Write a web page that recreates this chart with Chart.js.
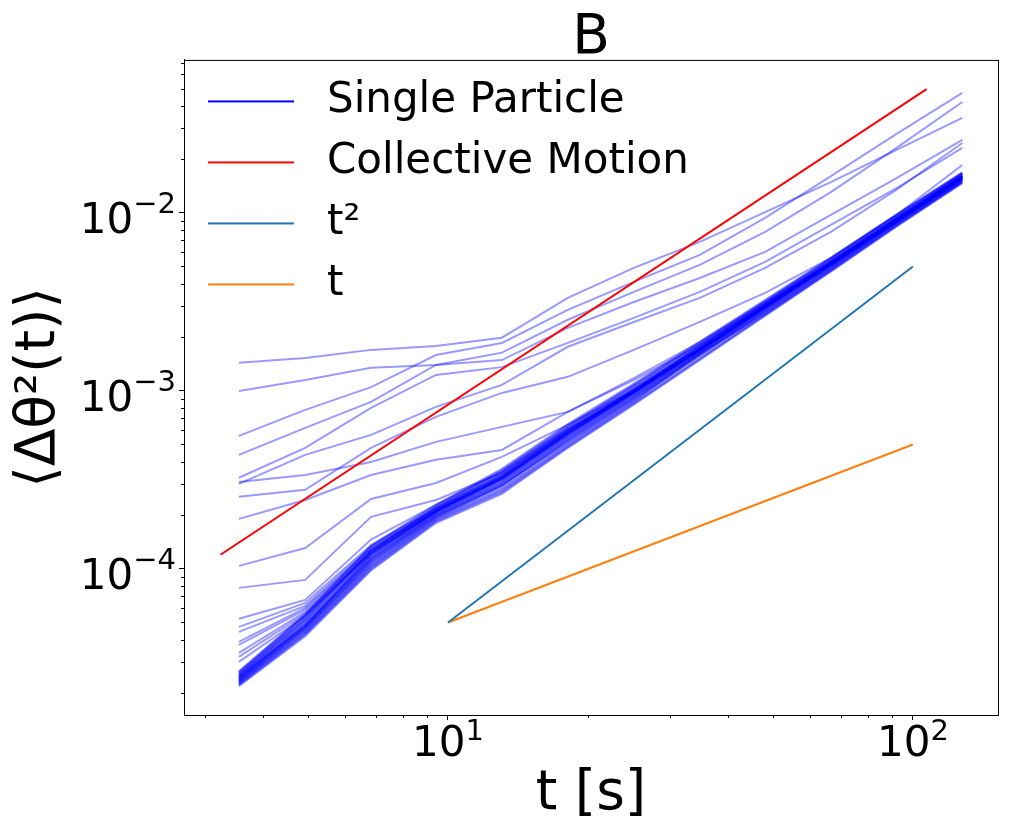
<!DOCTYPE html>
<html>
<head>
<meta charset="utf-8">
<script src="https://cdn.jsdelivr.net/npm/chart.js@4.4.0/dist/chart.umd.min.js"></script>
<style>
  html, body { margin: 0; padding: 0; background: #fff; }
  canvas { display: block; }
</style>
</head>
<body>
<canvas id="msd" width="1011" height="835"></canvas>
<script>
// time lags [s]
var tSec = [3.55, 4.93, 6.83, 9.42, 13.06, 18.1, 25.1, 34.8, 48.1, 66.6, 92.2, 127.7];

// single particle curves (upper strays)
var runA = [1.44e-3, 1.53e-3, 1.70e-3, 1.79e-3, 1.99e-3, 3.33e-3, 4.91e-3, 6.87e-3, 1.01e-2, 1.49e-2, 2.26e-2, 3.42e-2];
var runB = [1.00e-3, 1.15e-3, 1.35e-3, 1.40e-3, 1.64e-3, 2.51e-3, 3.60e-3, 5.10e-3, 7.82e-3, 1.31e-2, 2.32e-2, 4.20e-2];
var runC = [5.59e-4, 7.82e-4, 1.05e-3, 1.59e-3, 1.86e-3, 2.85e-3, 4.10e-3, 5.81e-3, 9.37e-3, 1.61e-2, 2.78e-2, 4.72e-2];
var runD = [4.37e-4, 6.20e-4, 8.68e-4, 1.40e-3, 1.49e-3, 2.26e-3, 3.16e-3, 4.31e-3, 6.04e-3, 9.74e-3, 1.57e-2, 2.57e-2];
var runE = [3.25e-4, 4.78e-4, 8.03e-4, 1.23e-3, 1.36e-3, 1.86e-3, 2.57e-3, 3.60e-3, 5.31e-3, 8.56e-3, 1.38e-2, 2.32e-2];
var runF = [3.00e-4, 4.37e-4, 5.66e-4, 8.13e-4, 1.08e-3, 1.77e-3, 2.44e-3, 3.33e-3, 4.91e-3, 7.82e-3, 1.35e-2, 2.47e-2];
var runG = [3.08e-4, 3.37e-4, 3.99e-4, 5.17e-4, 6.28e-4, 7.62e-4, 1.15e-3, 1.81e-3, 3.04e-3, 5.10e-3, 8.90e-3, 1.57e-2];
var runH = [2.54e-4, 2.78e-4, 4.78e-4, 7.14e-4, 9.74e-4, 1.20e-3, 1.70e-3, 2.44e-3, 3.55e-3, 5.59e-3, 9.74e-3, 1.86e-2];
var runI = [1.91e-4, 2.44e-4, 3.37e-4, 4.10e-4, 4.66e-4, 7.62e-4, 1.18e-3, 1.88e-3, 3.12e-3, 5.31e-3, 9.14e-3, 1.61e-2];
var runJ = [1.04e-4, 1.31e-4, 2.47e-4, 3.04e-4, 4.26e-4, 6.44e-4, 1.01e-3, 1.70e-3, 2.93e-3, 5.04e-3, 8.90e-3, 1.57e-2];
var runK = [7.82e-5, 8.67e-5, 1.96e-4, 2.44e-4, 3.46e-4, 6.04e-4, 9.87e-4, 1.70e-3, 3.00e-3, 5.17e-3, 9.14e-3, 1.59e-2];
var runL = [5.24e-5, 6.69e-5, 1.46e-4, 2.29e-4, 3.51e-4, 6.20e-4, 1.04e-3, 1.77e-3, 3.08e-3, 5.31e-3, 9.25e-3, 1.64e-2];
var runM = [4.72e-5, 6.44e-5, 1.36e-4, 2.20e-4, 3.37e-4, 6.04e-4, 1.01e-3, 1.74e-3, 3.04e-3, 5.24e-3, 9.25e-3, 1.61e-2];
var runN = [4.43e-5, 6.20e-5, 1.33e-4, 2.17e-4, 3.33e-4, 5.96e-4, 1.00e-3, 1.72e-3, 3.00e-3, 5.24e-3, 9.14e-3, 1.61e-2];
var runO = [3.89e-5, 6.04e-5, 1.30e-4, 2.15e-4, 3.29e-4, 5.88e-4, 1.00e-3, 1.72e-3, 3.00e-3, 5.17e-3, 9.14e-3, 1.59e-2];
var runP = [3.74e-5, 5.89e-5, 1.28e-4, 2.12e-4, 3.25e-4, 5.81e-4, 9.87e-4, 1.70e-3, 2.96e-3, 5.17e-3, 9.02e-3, 1.59e-2];
var runQ = [3.37e-5, 5.73e-5, 1.25e-4, 2.12e-4, 3.25e-4, 5.81e-4, 9.87e-4, 1.70e-3, 2.96e-3, 5.10e-3, 9.02e-3, 1.57e-2];
var runR = [3.20e-5, 5.59e-5, 1.23e-4, 2.09e-4, 3.20e-4, 5.73e-4, 9.74e-4, 1.70e-3, 2.96e-3, 5.10e-3, 9.02e-3, 1.57e-2];
var runS = [3.00e-5, 5.44e-5, 1.21e-4, 2.09e-4, 3.20e-4, 5.73e-4, 9.74e-4, 1.68e-3, 2.93e-3, 5.10e-3, 9.02e-3, 1.57e-2];

// the dense bundle at the bottom
var bund01 = [2.22e-5, 4.26e-5, 9.96e-5, 1.84e-4, 2.69e-4, 4.85e-4, 8.49e-4, 1.51e-3, 2.67e-3, 4.72e-3, 8.44e-3, 1.48e-2];
var bund02 = [2.26e-5, 4.38e-5, 1.03e-4, 1.89e-4, 2.78e-4, 5.00e-4, 8.73e-4, 1.62e-3, 2.72e-3, 4.80e-3, 8.57e-3, 1.50e-2];
var bund03 = [2.30e-5, 4.51e-5, 1.06e-4, 1.93e-4, 2.95e-4, 5.16e-4, 8.97e-4, 1.59e-3, 2.78e-3, 4.89e-3, 8.71e-3, 1.52e-2];
var bund04 = [2.34e-5, 4.61e-5, 1.09e-4, 1.97e-4, 2.94e-4, 5.28e-4, 9.17e-4, 1.62e-3, 2.83e-3, 4.96e-3, 8.81e-3, 1.54e-2];
var bund05 = [2.37e-5, 4.70e-5, 1.12e-4, 2.00e-4, 3.01e-4, 5.41e-4, 9.35e-4, 1.64e-3, 2.87e-3, 5.20e-3, 8.92e-3, 1.56e-2];
var bund06 = [2.41e-5, 4.81e-5, 1.14e-4, 2.03e-4, 3.08e-4, 5.53e-4, 9.56e-4, 1.67e-3, 2.92e-3, 5.10e-3, 9.03e-3, 1.53e-2];
var bund07 = [2.44e-5, 4.91e-5, 1.17e-4, 2.07e-4, 3.16e-4, 5.66e-4, 9.75e-4, 1.70e-3, 2.96e-3, 5.17e-3, 9.14e-3, 1.59e-2];
var bund08 = [2.48e-5, 4.75e-5, 1.20e-4, 2.11e-4, 3.24e-4, 5.79e-4, 9.95e-4, 1.73e-3, 3.01e-3, 5.24e-3, 9.25e-3, 1.61e-2];
var bund09 = [2.51e-5, 5.12e-5, 1.23e-4, 2.14e-4, 3.31e-4, 5.93e-4, 1.02e-3, 1.76e-3, 3.05e-3, 5.31e-3, 9.36e-3, 1.62e-2];
var bund10 = [2.56e-5, 5.27e-5, 1.27e-4, 2.19e-4, 3.43e-4, 6.11e-4, 1.00e-3, 1.80e-3, 3.12e-3, 5.41e-3, 9.51e-3, 1.65e-2];
var bund11 = [2.61e-5, 5.43e-5, 1.25e-4, 2.24e-4, 3.54e-4, 6.31e-4, 1.07e-3, 1.84e-3, 3.18e-3, 5.52e-3, 9.67e-3, 1.67e-2];
var bund12 = [2.66e-5, 5.58e-5, 1.35e-4, 2.30e-4, 3.65e-4, 6.50e-4, 1.10e-3, 1.89e-3, 3.25e-3, 5.61e-3, 9.83e-3, 1.69e-2];
var bund13 = [2.24e-5, 4.32e-5, 1.01e-4, 1.86e-4, 2.73e-4, 4.92e-4, 8.61e-4, 1.53e-3, 2.69e-3, 4.76e-3, 8.50e-3, 1.49e-2];
var bund14 = [2.28e-5, 4.44e-5, 1.04e-4, 1.91e-4, 2.83e-4, 5.08e-4, 8.85e-4, 1.57e-3, 2.75e-3, 4.84e-3, 8.64e-3, 1.51e-2];
var bund15 = [2.32e-5, 4.56e-5, 1.08e-4, 1.95e-4, 2.90e-4, 5.22e-4, 9.07e-4, 1.60e-3, 2.80e-3, 4.92e-3, 8.76e-3, 1.53e-2];
var bund16 = [2.35e-5, 4.66e-5, 1.10e-4, 1.98e-4, 2.97e-4, 5.34e-4, 9.26e-4, 1.63e-3, 2.85e-3, 5.00e-3, 8.86e-3, 1.55e-2];
var bund17 = [2.39e-5, 4.75e-5, 1.13e-4, 2.02e-4, 3.05e-4, 5.47e-4, 9.45e-4, 1.65e-3, 2.90e-3, 5.07e-3, 8.97e-3, 1.56e-2];
var bund18 = [2.42e-5, 4.86e-5, 1.15e-4, 2.05e-4, 3.12e-4, 5.60e-4, 9.65e-4, 1.68e-3, 2.94e-3, 5.13e-3, 9.08e-3, 1.58e-2];
var bund19 = [2.46e-5, 4.96e-5, 1.18e-4, 2.09e-4, 3.20e-4, 5.72e-4, 9.85e-4, 1.71e-3, 2.98e-3, 5.20e-3, 9.20e-3, 1.60e-2];
var bund20 = [2.50e-5, 5.07e-5, 1.21e-4, 2.12e-4, 3.27e-4, 5.86e-4, 1.01e-3, 1.75e-3, 3.03e-3, 5.27e-3, 9.30e-3, 1.61e-2];
var bund21 = [2.53e-5, 5.20e-5, 1.25e-4, 2.16e-4, 3.37e-4, 6.02e-4, 1.03e-3, 1.78e-3, 3.08e-3, 5.36e-3, 9.43e-3, 1.63e-2];
var bund22 = [2.58e-5, 5.35e-5, 1.29e-4, 2.21e-4, 3.48e-4, 6.21e-4, 1.06e-3, 1.82e-3, 3.15e-3, 5.46e-3, 9.59e-3, 1.66e-2];
var bund23 = [2.63e-5, 5.50e-5, 1.33e-4, 2.27e-4, 3.59e-4, 6.40e-4, 1.08e-3, 1.86e-3, 3.21e-3, 5.56e-3, 9.75e-3, 1.68e-2];
var bund24 = [2.19e-5, 4.18e-5, 9.80e-5, 1.81e-4, 2.64e-4, 4.78e-4, 8.38e-4, 1.49e-3, 2.64e-3, 4.68e-3, 8.38e-3, 1.47e-2];

var singleParticleRuns = [runA, runB, runC, runD, runE, runF, runG, runH, runI, runJ, runK,
  runL, runM, runN, runO, runP, runQ, runR, runS,
  bund01, bund02, bund03, bund04, bund05, bund06, bund07, bund08, bund09, bund10, bund11, bund12,
  bund13, bund14, bund15, bund16, bund17, bund18, bund19, bund20, bund21, bund22, bund23, bund24];

// reference lines
var collectiveT = [3.24, 107];
var collectiveMsd = [1.2e-4, 4.96e-2];
var guideT = [10, 100];
var guideT2 = [5e-5, 5e-3];
var guideT1 = [5e-5, 5e-4];

// ticks: labels are "10" with a raised exponent
var tickBase = '10';
var xTickValues = [10, 100];
var xTickExps = ['1', '2'];
var yTickValues = [1e-4, 1e-3, 1e-2];
var yTickExps = ['\u22124', '\u22123', '\u22122'];
var xMinorTicks = [3, 4, 5, 6, 7, 8, 9, 20, 30, 40, 50, 60, 70, 80, 90];
var yMinorTicks = [2e-5, 3e-5, 4e-5, 5e-5, 6e-5, 7e-5, 8e-5, 9e-5,
  2e-4, 3e-4, 4e-4, 5e-4, 6e-4, 7e-4, 8e-4, 9e-4,
  2e-3, 3e-3, 4e-3, 5e-3, 6e-3, 7e-3, 8e-3, 9e-3,
  2e-2, 3e-2, 4e-2, 5e-2, 6e-2, 7e-2];

var legendNames = ['Single Particle', 'Collective Motion', 't²', 't'];
var legendColors = ['#0000ff', '#ff0000', '#1f77b4', '#ff7f0e'];

var FONT = "'DejaVu Sans', sans-serif";

function pairUp(xs, ys) {
  return ys.map(function(v, i) { return {x: xs[i], y: v}; });
}

// little line sample used as legend marker (left margin + line)
function legendMarker(color) {
  var c = document.createElement('canvas');
  c.width = 103;
  c.height = 4;
  var g = c.getContext('2d');
  g.strokeStyle = color;
  g.lineWidth = 2;
  g.beginPath();
  g.moveTo(5, 2);
  g.lineTo(91, 2);
  g.stroke();
  return c;
}

var datasets = [];
singleParticleRuns.forEach(function(run) {
  datasets.push({
    label: 'Single Particle',
    data: pairUp(tSec, run),
    borderColor: 'rgba(0,0,255,0.4)',
    borderWidth: 2,
    order: 5
  });
});
datasets.push({label: 'Collective Motion', data: pairUp(collectiveT, collectiveMsd), borderColor: '#ff0000', borderWidth: 2, order: 1});
datasets.push({label: 't²', data: pairUp(guideT, guideT2), borderColor: '#1f77b4', borderWidth: 2, order: 1});
datasets.push({label: 't', data: pairUp(guideT, guideT1), borderColor: '#ff7f0e', borderWidth: 2, order: 1});

// legend in chartArea gets its top reset to 0 by the layout, put it back
var legendInside = {
  id: 'legendInside',
  afterLayout: function(chart) {
    if (chart.legend) {
      var h = chart.legend.bottom - chart.legend.top;
      chart.legend.top = chart.chartArea.top + 1.5;
      chart.legend.bottom = chart.legend.top + h;
    }
  }
};

// box around the axes, short minor ticks, tick labels with exponents
var frameTicks = {
  id: 'frameTicks',
  afterDraw: function(chart) {
    var ctx = chart.ctx, a = chart.chartArea, xs = chart.scales.x, ys = chart.scales.y;
    ctx.save();
    ctx.strokeStyle = '#000';
    ctx.lineWidth = 1;
    ctx.strokeRect(a.left + 0.5, a.top + 0.5, a.right - a.left, a.bottom - a.top);
    ctx.beginPath();
    xMinorTicks.forEach(function(v) {
      var px = Math.round(xs.getPixelForValue(v)) + 0.5;
      ctx.moveTo(px, a.bottom);
      ctx.lineTo(px, a.bottom + 3);
    });
    yMinorTicks.forEach(function(v) {
      var py = Math.round(ys.getPixelForValue(v)) + 0.5;
      ctx.moveTo(a.left, py);
      ctx.lineTo(a.left - 3, py);
    });
    ctx.stroke();

    var big = '42px ' + FONT, small = '29px ' + FONT;
    ctx.fillStyle = '#000';
    ctx.textBaseline = 'alphabetic';
    ctx.textAlign = 'left';
    xTickValues.forEach(function(v, i) {
      var px = xs.getPixelForValue(v);
      ctx.font = big;
      var wb = ctx.measureText(tickBase).width;
      ctx.font = small;
      var we = ctx.measureText(xTickExps[i]).width;
      var left = px - (wb + we) / 2;
      ctx.font = big;
      ctx.fillText(tickBase, left, a.bottom + 41);
      ctx.font = small;
      ctx.fillText(xTickExps[i], left + wb, a.bottom + 25);
    });
    yTickValues.forEach(function(v, i) {
      var py = ys.getPixelForValue(v);
      var right = a.left - 8;
      ctx.font = small;
      var we = ctx.measureText(yTickExps[i]).width;
      ctx.textAlign = 'right';
      ctx.fillText(yTickExps[i], right, py);
      ctx.font = big;
      ctx.fillText(tickBase, right - we, py + 20.5);
    });
    ctx.restore();
  }
};

Chart.defaults.font.family = FONT;
Chart.defaults.color = '#000';

var chart = new Chart(document.getElementById('msd'), {
  type: 'line',
  data: {datasets: datasets},
  plugins: [legendInside, frameTicks],
  options: {
    responsive: false,
    animation: false,
    devicePixelRatio: 1,
    layout: {padding: {left: 0, right: 13, top: 0, bottom: 0}},
    elements: {
      point: {radius: 0, hoverRadius: 0},
      line: {tension: 0, fill: false}
    },
    plugins: {
      title: {
        display: true,
        text: 'B',
        color: '#000',
        fullSize: false,
        font: {size: 55, weight: 'normal', lineHeight: 0.78},
        padding: {top: 17, bottom: 0}
      },
      legend: {
        position: 'chartArea',
        align: 'start',
        labels: {
          usePointStyle: true,
          pointStyleWidth: 103,
          padding: 19,
          color: '#000',
          font: {size: 42},
          generateLabels: function() {
            return legendNames.map(function(name, i) {
              return {
                text: name,
                fillStyle: legendColors[i],
                strokeStyle: legendColors[i],
                lineWidth: 0,
                pointStyle: legendMarker(legendColors[i]),
                hidden: false,
                fontColor: '#000'
              };
            });
          }
        }
      },
      tooltip: {enabled: false}
    },
    scales: {
      x: {
        type: 'logarithmic',
        min: 2.705,
        max: 152.4,
        afterBuildTicks: function(scale) {
          scale.ticks = xTickValues.map(function(v) { return {value: v, major: true}; });
        },
        afterFit: function(scale) { scale.height = 120; },
        ticks: {
          autoSkip: false,
          maxRotation: 0,
          callback: function() { return ''; }
        },
        grid: {display: true, drawOnChartArea: false, tickLength: 5, color: '#000', tickColor: '#000'},
        border: {display: true, color: '#000', width: 1},
        title: {
          display: true,
          text: 't [s]',
          color: '#000',
          font: {size: 55},
          padding: {top: 0, bottom: 7}
        }
      },
      y: {
        type: 'logarithmic',
        min: 1.51e-5,
        max: 0.0724,
        afterBuildTicks: function(scale) {
          scale.ticks = yTickValues.map(function(v) { return {value: v, major: true}; });
        },
        afterFit: function(scale) { scale.width = 184; },
        ticks: {
          autoSkip: false,
          callback: function() { return ''; }
        },
        grid: {display: true, drawOnChartArea: false, tickLength: 5, color: '#000', tickColor: '#000'},
        border: {display: true, color: '#000', width: 1},
        title: {
          display: true,
          text: '⟨Δθ²(t)⟩',
          color: '#000',
          font: {size: 55},
          padding: {top: 7, bottom: 0}
        }
      }
    }
  }
});
</script>
</body>
</html>
